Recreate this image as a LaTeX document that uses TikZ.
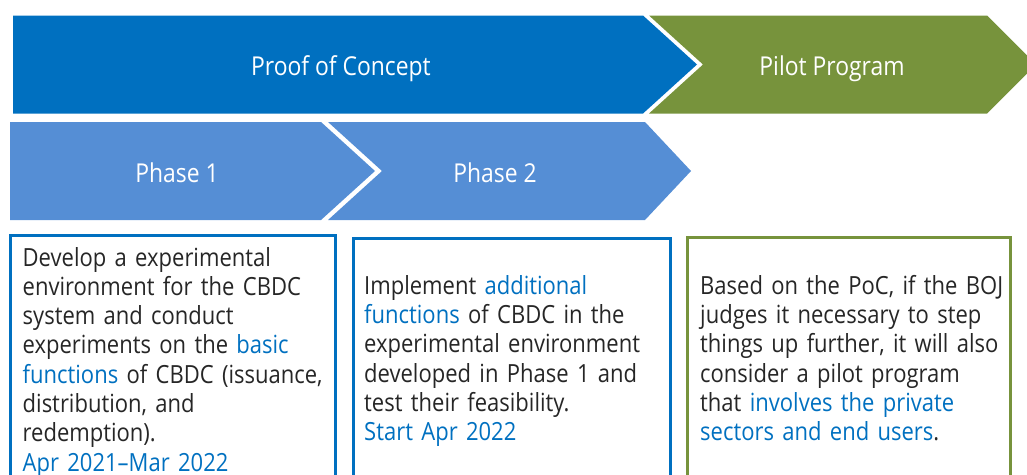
\documentclass[tikz,border=0pt]{standalone}
\usepackage{fontspec}
\setmainfont{Open Sans}[FakeStretch=0.88]
\definecolor{pocblue}{HTML}{0070C0}
\definecolor{phaseblue}{HTML}{558ED5}
\definecolor{pilotgreen}{HTML}{77933C}
\definecolor{bodytext}{HTML}{262626}
\newcommand{\hl}[1]{\textcolor{pocblue}{#1}}
\tikzset{
  chevtitle/.style={text=white, font=\fontsize{26}{30}\selectfont, inner sep=0pt, anchor=base},
  bodytxt/.style={text=bodytext, font=\fontsize{25}{29.3}\selectfont, inner sep=0pt, anchor=base west, text width=330pt, align=left},
  bluebox/.style={draw=pocblue, line width=3pt},
  greenbox/.style={draw=pilotgreen, line width=3pt},
}
\begin{document}
\begin{tikzpicture}[x=1pt,y=-1pt]
\useasboundingbox (0,0) rectangle (1027,474);
\clip (0,0) rectangle (1027,474);
% top row
\fill[pocblue] (13,15.5) -- (643,15.5) -- (697,64.5) -- (643,113.5) -- (13,113.5) -- cycle;
\fill[pilotgreen] (649,15.5) -- (987,15.5) -- (1036,64.5) -- (987,113.5) -- (649,113.5) -- (703,64.5) -- cycle;
% phase row
\fill[phaseblue] (10,122) -- (321,122) -- (375,171) -- (321,220) -- (10,220) -- cycle;
\fill[phaseblue] (328,122) -- (645,122) -- (691,171) -- (645,220) -- (328,220) -- (382,171) -- cycle;
% titles
\node[chevtitle] (poc) at (341,75) {Proof of Concept};
\node[chevtitle] (pilot) at (832,75) {Pilot Program};
\node[chevtitle] (ph1) at (177,182) {Phase 1};
\node[chevtitle] (ph2) at (495,182) {Phase 2};
% boxes
\draw[bluebox] (10,235.5) rectangle (335.5,490);
\draw[bluebox] (353,238) rectangle (670.5,490);
\draw[greenbox] (687.5,237.5) rectangle (1010.5,490);
% texts
\node[bodytxt] (t1) at (22.5,266) {Develop a experimental\\
environment for the CBDC\\
system and conduct\\
experiments on the \hl{basic}\\
\hl{functions} of CBDC (issuance,\\
distribution, and\\
redemption).\\
\hl{Apr 2021–Mar 2022}};
\node[bodytxt] (t2) at (364,294.3) {Implement \hl{additional}\\
\hl{functions} of CBDC in the\\
experimental environment\\
developed in Phase 1 and\\
test their feasibility.\\
\hl{Start Apr 2022}};
\node[bodytxt] (t3) at (700,294.3) {Based on the PoC, if the BOJ\\
judges it necessary to step\\
things up further, it will also\\
consider a pilot program\\
that \hl{involves the private}\\
\hl{sectors and end users}.};
\end{tikzpicture}
\end{document}
